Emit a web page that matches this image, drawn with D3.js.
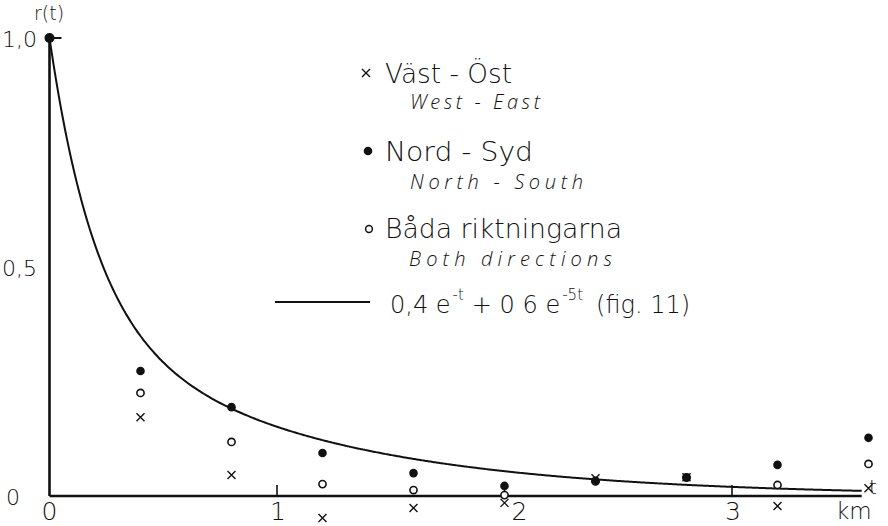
<!DOCTYPE html>
<html><head><meta charset="utf-8">
<script src="https://cdn.jsdelivr.net/npm/d3@7"></script>
<style>
body{margin:0;background:#fff;}
svg text{fill:#111;}
</style></head>
<body><svg id="c" width="888" height="526"></svg>
<script>
// distances (km)
const tWE = [0.4,0.8,1.2,1.6,2.0,2.4,2.8,3.2,3.6];
const valWE = [0.172,0.046,-0.048,-0.026,-0.015,0.039,0.041,-0.022,0.017];
const tNS = [0,0.4,0.8,1.2,1.6,2.0,2.4,2.8,3.2,3.6];
const valNS = [1.0,0.273,0.194,0.094,0.050,0.022,0.033,0.041,0.068,0.127];
const tBoth = [0.4,0.8,1.2,1.6,2.0,2.4,2.8,3.2,3.6];
const valBoth = [0.225,0.118,0.026,0.013,0.002,0.032,0.040,0.024,0.070];
const xTicks = [0,1,2,3];
const yTicks = [0,0.5,1.0];
const yTickLabels = ["0","0,5","1,0"];
const legendLabels = ["Väst - Öst","Nord - Syd","Båda riktningarna"];
const legendSub = ["West - East","North - South","Both directions"];
const formulaParts = [["0,4 e",0],["-t",1],["+ 0 6 e",0],["-5t",1],["(fig. 11)",0]];

const SANS = "'DejaVu Sans',sans-serif";
const ITAL = "'Open Sans','Lato',sans-serif";

const svg = d3.select("#c");
const x = d3.scaleLinear().domain([0,3]).range([49.5,732]);
const y = d3.scaleLinear().domain([0,1]).range([496,38]);
const tMax = 3.57;

// axes
const g = svg.append("g");
g.append("line").attr("x1",x(0)).attr("x2",x(tMax)).attr("y1",y(0)).attr("y2",y(0))
  .attr("stroke","#111").attr("stroke-width",2.6);
g.append("line").attr("x1",x(0)).attr("x2",x(0)).attr("y1",y(0)).attr("y2",y(1)-3)
  .attr("stroke","#111").attr("stroke-width",2.6);
g.append("line").attr("x1",x(0)).attr("x2",x(0)+12).attr("y1",y(1)).attr("y2",y(1))
  .attr("stroke","#111").attr("stroke-width",2);
g.selectAll(".xt").data(xTicks.filter(d=>d>0)).join("line")
  .attr("x1",d=>x(d)).attr("x2",d=>x(d)).attr("y1",y(0)).attr("y2",y(0)-11)
  .attr("stroke","#111").attr("stroke-width",1.6);
g.selectAll(".xl").data(xTicks).join("text")
  .attr("x",d=>x(d)+(d===2?15:(d===0?0:1))).attr("y",y(0)+24)
  .attr("text-anchor","middle").style("font-family",SANS).attr("font-size",25).attr("font-weight",300)
  .text(d=>String(d));
g.selectAll(".yl").data(yTicks).join("text")
  .attr("x",(d,i)=>i===0?20:37).attr("y",d=>y(d)+9)
  .attr("text-anchor","end").style("font-family",SANS).attr("font-size",22).attr("font-weight",300)
  .text((d,i)=>yTickLabels[i]);
svg.append("text").attr("x",34).attr("y",20).style("font-family",SANS).attr("font-size",19).attr("font-weight",300).text("r(t)");
svg.append("text").attr("x",869).attr("y",494).style("font-family",SANS).attr("font-size",20).attr("font-weight",300).text("t");
svg.append("text").attr("x",836).attr("y",519).style("font-family",SANS).attr("font-size",23).attr("font-weight",300).text("km");

// curve
const curveT = d3.range(0, tMax+0.0001, 0.01);
const f = t => 0.4*Math.exp(-t) + 0.6*Math.exp(-5*t);
svg.append("path").datum(curveT)
  .attr("d", d3.line().x(t=>x(t)).y(t=>y(f(t))).curve(d3.curveBasis))
  .attr("fill","none").attr("stroke","#111").attr("stroke-width",2);

// points
const cross = (sel, cx, cy, s) => {
  sel.append("path").attr("d",`M${cx-s},${cy-s}L${cx+s},${cy+s}M${cx-s},${cy+s}L${cx+s},${cy-s}`)
    .attr("stroke","#111").attr("stroke-width",1.4).attr("fill","none");
};
const pts = svg.append("g");
tBoth.forEach((t,i)=>{
  pts.append("circle").attr("cx",x(t)).attr("cy",y(valBoth[i])).attr("r",3.6)
    .attr("fill","#fff").attr("stroke","#111").attr("stroke-width",1.6);
});
tNS.forEach((t,i)=>{
  pts.append("circle").attr("cx",x(t)).attr("cy",y(valNS[i])).attr("r",t===0?5:4.3)
    .attr("fill","#111");
});
tWE.forEach((t,i)=>{ cross(pts, x(t), y(valWE[i]), 4); });

// legend
const lg = svg.append("g");
const rows = [
  {my:73, ty:83, tx:385, tw:127, sy:109, sx:410, sw:130},
  {my:151, ty:161, tx:385, tw:148, sy:189, sx:410, sw:173},
  {my:229, ty:238, tx:385, tw:237, sy:266, sx:409, sw:203}
];
cross(lg, 366, rows[0].my, 4);
lg.append("circle").attr("cx",368).attr("cy",rows[1].my).attr("r",4.3).attr("fill","#111");
lg.append("circle").attr("cx",369).attr("cy",rows[2].my).attr("r",3.4).attr("fill","#fff").attr("stroke","#111").attr("stroke-width",1.5);
rows.forEach((r,i)=>{
  lg.append("text").attr("x",r.tx).attr("y",r.ty).style("font-family",SANS).attr("font-size",27).attr("font-weight",300)
    .attr("textLength",r.tw).attr("lengthAdjust","spacingAndGlyphs").text(legendLabels[i]);
  lg.append("text").attr("x",r.sx).attr("y",r.sy).style("font-family",ITAL).style("font-style","italic")
    .style("font-weight","300").attr("font-size",20)
    .attr("textLength",r.sw).attr("lengthAdjust","spacing").text(legendSub[i]);
});
lg.append("line").attr("x1",275).attr("x2",370).attr("y1",302).attr("y2",302)
  .attr("stroke","#111").attr("stroke-width",1.8);
// formula as separate pieces
let fx = 390;
const gaps = [0,1,7,1,12];
formulaParts.forEach(([s,sup],i)=>{
  fx += gaps[i];
  const t = lg.append("text").attr("x",fx).attr("y",sup?300:313).style("font-family",SANS)
    .attr("font-size",sup?15:24).attr("font-weight",300).text(s);
  fx += t.node().getComputedTextLength() + 1;
});
</script></body></html>
